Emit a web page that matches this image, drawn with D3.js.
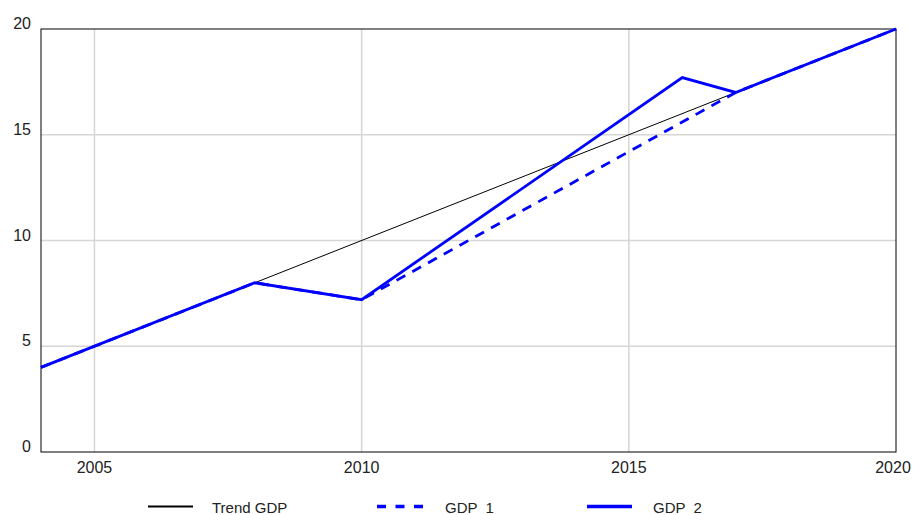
<!DOCTYPE html>
<html><head><meta charset="utf-8">
<script src="https://cdn.jsdelivr.net/npm/d3@7"></script>
<style>body{margin:0;background:#fff}svg{display:block}text{font-family:"Liberation Sans",Arial,sans-serif;fill:#222}</style>
</head><body>
<svg id="c" width="914" height="515"></svg>
<script>
const trendYears = [2004, 2020];
const trendValues = [4, 20];
const gdp1Years = [2004, 2008, 2010, 2017, 2020];
const gdp1Values = [4, 8, 7.2, 17, 20];
const gdp2Years = [2004, 2008, 2010, 2016, 2017, 2020];
const gdp2Values = [4, 8, 7.2, 17.7, 17, 20];
const xTicks = [2005, 2010, 2015, 2020];
const yTicks = [0, 5, 10, 15, 20];
const seriesNames = ["Trend GDP", "GDP  1", "GDP  2"];

const svg = d3.select("#c");
const L = 41, R = 896, T = 29, B = 452;
const x = d3.scaleLinear().domain([2004, 2020]).range([L, R]);
const y = d3.scaleLinear().domain([0, 20]).range([B, T]);

// grid
svg.append("g").selectAll("line").data(xTicks.filter(d => d < 2020)).join("line")
  .attr("x1", d => x(d)).attr("x2", d => x(d)).attr("y1", T).attr("y2", B)
  .attr("stroke", "#d6d6d6").attr("stroke-width", 1.5);
svg.append("g").selectAll("line").data(yTicks.filter(d => d > 0 && d < 20)).join("line")
  .attr("x1", L).attr("x2", R).attr("y1", d => y(d)).attr("y2", d => y(d))
  .attr("stroke", "#d6d6d6").attr("stroke-width", 1.5);

// frame
svg.append("rect").attr("x", L).attr("y", T).attr("width", R - L).attr("height", B - T)
  .attr("fill", "none").attr("stroke", "#000").attr("stroke-width", 1);

// tick labels
svg.append("g").selectAll("text").data(yTicks).join("text")
  .attr("x", 31).attr("y", d => y(d)).attr("text-anchor", "end")
  .attr("font-size", 16).text(d => d);
svg.append("g").selectAll("text").data(xTicks).join("text")
  .attr("x", d => d === 2020 ? x(d) - 3 : x(d)).attr("y", 473).attr("text-anchor", "middle")
  .attr("font-size", 16).text(d => d);

const line = d3.line().x(d => x(d[0])).y(d => y(d[1]));
const zip = (a, b) => a.map((v, i) => [v, b[i]]);

svg.append("path").attr("d", line(zip(trendYears, trendValues)))
  .attr("fill", "none").attr("stroke", "#000").attr("stroke-width", 1);
svg.append("path").attr("d", line(zip(gdp1Years, gdp1Values)))
  .attr("fill", "none").attr("stroke", "#0000ff").attr("stroke-width", 2.8)
  .attr("stroke-dasharray", "10,8");
svg.append("path").attr("d", line(zip(gdp2Years, gdp2Values)))
  .attr("fill", "none").attr("stroke", "#0000ff").attr("stroke-width", 2.8);

// legend
const leg = [
  {x1: 148, x2: 193, tx: 212, color: "#000", w: 2, dash: null},
  {x1: 377, x2: 423, tx: 445, color: "#0000ff", w: 3.5, dash: "9,9.5"},
  {x1: 587, x2: 632, tx: 653, color: "#0000ff", w: 3.5, dash: null}
];
leg.forEach((l, i) => {
  svg.append("line").attr("x1", l.x1).attr("x2", l.x2).attr("y1", 506.5).attr("y2", 506.5)
    .attr("stroke", l.color).attr("stroke-width", l.w).attr("stroke-dasharray", l.dash);
  svg.append("text").attr("x", l.tx).attr("y", 513).attr("font-size", 15)
    .attr("xml:space", "preserve").style("white-space", "pre").text(seriesNames[i]);
});
</script>
</body></html>
